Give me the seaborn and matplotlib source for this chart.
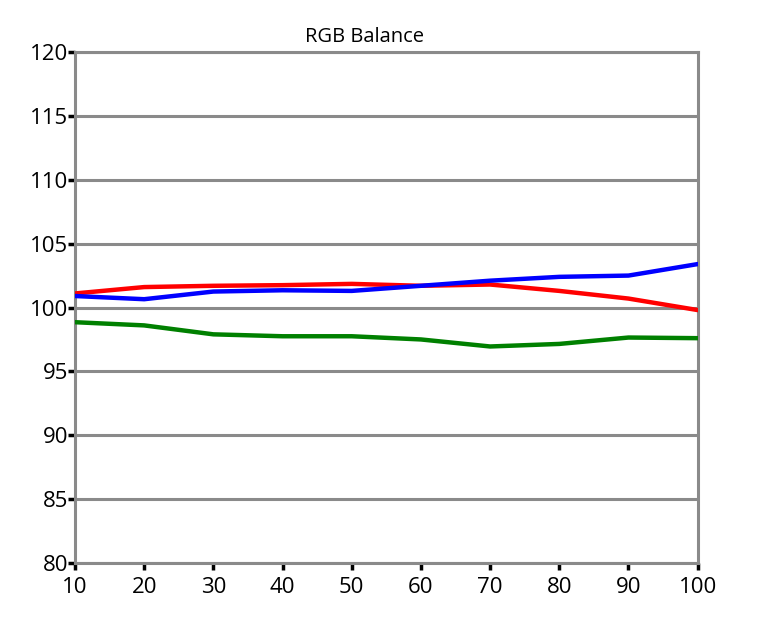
import pandas as pd
import matplotlib
matplotlib.use("Agg")
import matplotlib.pyplot as plt
import seaborn as sns

# Data
levels = [10, 20, 30, 40, 50, 60, 70, 80, 90, 100]
red = [101.1, 101.6, 101.7, 101.75, 101.85, 101.7, 101.8, 101.3, 100.7, 99.8]
green = [98.85, 98.6, 97.9, 97.75, 97.75, 97.5, 96.95, 97.15, 97.65, 97.6]
blue = [100.9, 100.65, 101.25, 101.35, 101.3, 101.7, 102.1, 102.4, 102.5, 103.4]
yticks = [80, 85, 90, 95, 100, 105, 110, 115, 120]

df = pd.DataFrame({
    'Level': levels * 3,
    'Value': red + green + blue,
    'Channel': ['Red'] * 10 + ['Green'] * 10 + ['Blue'] * 10,
})

sns.set_style("white")
plt.rcParams['font.family'] = ['Open Sans', 'DejaVu Sans']
plt.rcParams['text.color'] = 'black'

fig = plt.figure(figsize=(7.65, 6.23), dpi=100)
ax = fig.add_axes([0.098, 0.0963, 0.814, 0.8202])

# gridlines first so lines sit on top
for y in yticks:
    ax.axhline(y, color='#8a8a8a', lw=2.2, zorder=1)

sns.lineplot(data=df, x='Level', y='Value', hue='Channel',
             palette={'Red': '#ff0000', 'Green': '#008000', 'Blue': '#0000ff'},
             linewidth=3.2, legend=False, ax=ax, zorder=3)

ax.set_xlim(10, 100)
ax.set_ylim(80, 120)
ax.set_xticks(levels)
ax.set_yticks(yticks)
ax.set_xlabel('')
ax.set_ylabel('')
ax.set_title('RGB Balance', fontsize=14.5, pad=7, color='black', x=0.465)

for s in ax.spines.values():
    s.set_color('#8a8a8a')
    s.set_linewidth(2.2)

ax.tick_params(axis='both', which='both', direction='out', length=5, width=2.5,
               color='black', labelcolor='black', labelsize=16, left=True, bottom=True)
ax.tick_params(axis='y', pad=0)
ax.tick_params(axis='x', pad=5)

fig.savefig('out.png', dpi=100)
